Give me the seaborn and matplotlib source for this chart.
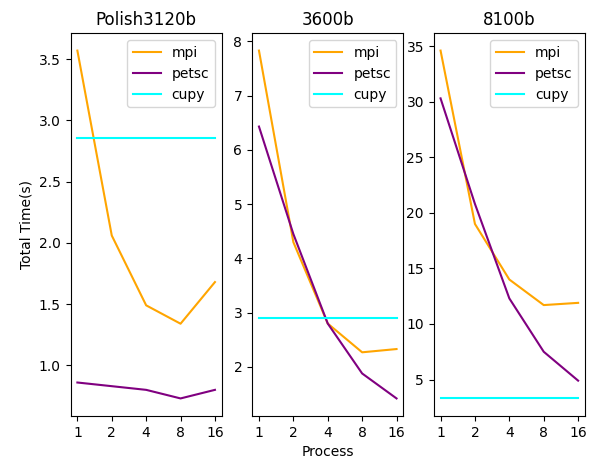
import pandas as pd
import matplotlib
matplotlib.use("Agg")
import matplotlib.pyplot as plt
import seaborn as sns

# 数据
processes = ["1", "2", "4", "8", "16"]
titles = ["Polish3120b", "3600b", "8100b"]

mpi_3120 = [3.57, 2.06, 1.49, 1.34, 1.68]
petsc_3120 = [0.86, 0.83, 0.80, 0.73, 0.80]
cupy_3120 = 2.86

mpi_3600 = [7.83, 4.30, 2.80, 2.27, 2.33]
petsc_3600 = [6.43, 4.45, 2.80, 1.88, 1.42]
cupy_3600 = 2.90

mpi_8100 = [34.6, 19.0, 14.0, 11.7, 11.9]
petsc_8100 = [30.3, 20.8, 12.3, 7.5, 4.9]
cupy_8100 = 3.3

cases = [
    (mpi_3120, petsc_3120, cupy_3120),
    (mpi_3600, petsc_3600, cupy_3600),
    (mpi_8100, petsc_8100, cupy_8100),
]
palette = {"mpi": "orange", "petsc": "purple", "cupy": "cyan"}

fig, axes = plt.subplots(1, 3, figsize=(6, 4.61), dpi=100)
fig.subplots_adjust(left=0.1175, right=0.975, top=0.928, bottom=0.098, wspace=0.2)

for ax, title, (mpi, petsc, cupy) in zip(axes, titles, cases):
    pos = list(range(len(processes)))
    df = pd.DataFrame({
        "pos": pos * 3,
        "time": mpi + petsc + [cupy] * len(processes),
        "method": ["mpi"] * 5 + ["petsc"] * 5 + ["cupy"] * 5,
    })
    sns.lineplot(data=df, x="pos", y="time", hue="method", palette=palette,
                 ax=ax, linewidth=1.5)
    ax.set_xticks(pos)
    ax.set_xticklabels(processes)
    ax.set_title(title)
    ax.set_xlabel("")
    ax.set_ylabel("")
    ax.legend(loc="upper right")

axes[0].set_ylabel("Total Time(s)")
axes[1].set_xlabel("Process")

plt.savefig("out.png")
